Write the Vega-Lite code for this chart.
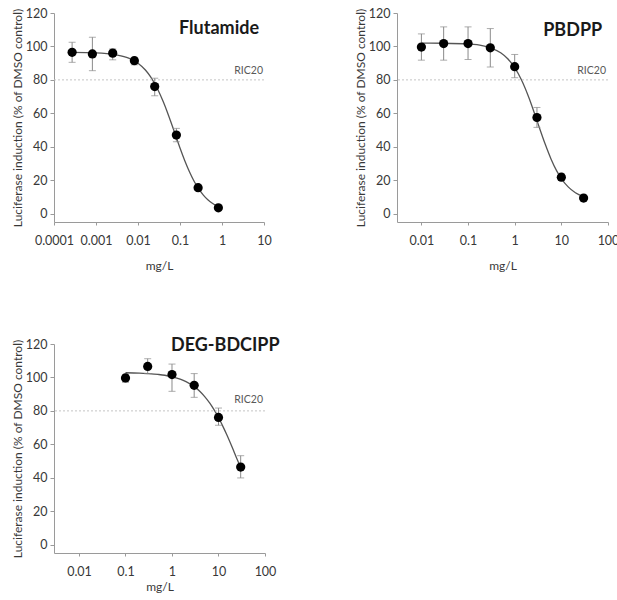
{
  "$schema": "https://vega.github.io/schema/vega-lite/v6.json",
  "background": "white",
  "padding": {"left": 11, "top": 7, "right": 0, "bottom": 0},
  "spacing": 64,
  "config": {
    "view": {"stroke": null},
    "font": "Lato",
    "axis": {
      "grid": false,
      "domainColor": "#9a9a9a",
      "tickColor": "#9a9a9a",
      "labelColor": "#383838",
      "titleColor": "#383838",
      "labelFont": "Lato",
      "titleFont": "Lato",
      "labelFontSize": 12.5,
      "titleFontSize": 12,
      "titleFontWeight": "normal",
      "labelOverlap": false,
      "labelFlush": false
    }
  },
  "datasets": {
    "flut_pts": [
      {"dose": 0.00027, "resp": 96.5, "lo": 90.5, "hi": 102.5},
      {"dose": 0.00082, "resp": 95.5, "lo": 85.5, "hi": 105.5},
      {"dose": 0.0025, "resp": 96, "lo": 92, "hi": 98.5},
      {"dose": 0.0082, "resp": 91.5, "lo": 89, "hi": 93.5},
      {"dose": 0.025, "resp": 76, "lo": 70.5, "hi": 81},
      {"dose": 0.082, "resp": 47, "lo": 43, "hi": 51},
      {"dose": 0.27, "resp": 15.5, "lo": 14, "hi": 17},
      {"dose": 0.82, "resp": 3.5, "lo": 3, "hi": 4}
    ],
    "flut_curve": [
      {"dose": 0.00027, "resp": 96.4}, {"dose": 0.001, "resp": 96.2}, {"dose": 0.003, "resp": 95.0},
      {"dose": 0.006, "resp": 93.0}, {"dose": 0.01, "resp": 90.0}, {"dose": 0.015, "resp": 85.9},
      {"dose": 0.02, "resp": 81.8}, {"dose": 0.03, "resp": 74.0}, {"dose": 0.04, "resp": 66.9},
      {"dose": 0.05, "resp": 60.7}, {"dose": 0.065, "resp": 52.7}, {"dose": 0.08, "resp": 46.2},
      {"dose": 0.1, "resp": 39.3}, {"dose": 0.13, "resp": 31.7}, {"dose": 0.17, "resp": 24.8},
      {"dose": 0.22, "resp": 19.1}, {"dose": 0.28, "resp": 14.8}, {"dose": 0.36, "resp": 11.1},
      {"dose": 0.46, "resp": 8.3}, {"dose": 0.6, "resp": 6.1}, {"dose": 0.82, "resp": 4.1}
    ],
    "pbdpp_pts": [
      {"dose": 0.01, "resp": 99.6, "lo": 91.8, "hi": 107.5},
      {"dose": 0.03, "resp": 101.7, "lo": 91.8, "hi": 111.7},
      {"dose": 0.1, "resp": 101.7, "lo": 92.2, "hi": 111.7},
      {"dose": 0.3, "resp": 99.2, "lo": 87.7, "hi": 110.7},
      {"dose": 1, "resp": 87.9, "lo": 81.3, "hi": 95.2},
      {"dose": 3, "resp": 57.5, "lo": 51.6, "hi": 63.5},
      {"dose": 10, "resp": 21.8, "lo": 19.8, "hi": 23.8},
      {"dose": 30, "resp": 9.3, "lo": 8.5, "hi": 10}
    ],
    "pbdpp_curve": [
      {"dose": 0.01, "resp": 102.0}, {"dose": 0.03, "resp": 101.9}, {"dose": 0.1, "resp": 101.4},
      {"dose": 0.2, "resp": 100.5}, {"dose": 0.3, "resp": 99.2}, {"dose": 0.5, "resp": 96.2},
      {"dose": 0.7, "resp": 92.8}, {"dose": 1, "resp": 87.3}, {"dose": 1.4, "resp": 79.9},
      {"dose": 2, "resp": 69.6}, {"dose": 2.7, "resp": 59.4}, {"dose": 3.5, "resp": 50.2},
      {"dose": 4.5, "resp": 41.6}, {"dose": 6, "resp": 32.7}, {"dose": 8, "resp": 25.4},
      {"dose": 10, "resp": 21.0}, {"dose": 14, "resp": 16.0}, {"dose": 20, "resp": 12.5},
      {"dose": 30, "resp": 10.1}
    ],
    "deg_pts": [
      {"dose": 0.1, "resp": 99.7, "lo": 97.1, "hi": 101.7},
      {"dose": 0.3, "resp": 106.6, "lo": 102.3, "hi": 111.2},
      {"dose": 1, "resp": 101.7, "lo": 91.7, "hi": 108},
      {"dose": 3, "resp": 95.3, "lo": 88.1, "hi": 102.3},
      {"dose": 10, "resp": 76.1, "lo": 71.4, "hi": 81.7},
      {"dose": 30, "resp": 46.4, "lo": 39.9, "hi": 53.2}
    ],
    "deg_curve": [
      {"dose": 0.1, "resp": 102.8}, {"dose": 0.2, "resp": 102.6}, {"dose": 0.3, "resp": 102.3},
      {"dose": 0.5, "resp": 101.8}, {"dose": 0.7, "resp": 101.3}, {"dose": 1, "resp": 100.4},
      {"dose": 1.5, "resp": 99.0}, {"dose": 2, "resp": 97.5}, {"dose": 3, "resp": 94.5},
      {"dose": 4, "resp": 91.6}, {"dose": 5, "resp": 88.7}, {"dose": 6.5, "resp": 84.6},
      {"dose": 8, "resp": 80.7}, {"dose": 10, "resp": 76.0}, {"dose": 12.5, "resp": 70.6},
      {"dose": 15, "resp": 65.9}, {"dose": 20, "resp": 57.8}, {"dose": 25, "resp": 51.2},
      {"dose": 30, "resp": 46.1}
    ],
    "one": [{}]
  },
  "vconcat": [
    {
      "spacing": 82,
      "hconcat": [
        {
          "width": 210,
          "height": 209,
          "layer": [
            {
              "data": {"name": "flut_curve"},
              "mark": {"type": "line", "color": "#555555", "strokeWidth": 1.3, "interpolate": "monotone"},
              "encoding": {
                "x": {"field": "dose", "type": "quantitative", "title": "mg/L",
                  "scale": {"type": "log", "domain": [0.0001, 10], "nice": false},
                  "axis": {"values": [0.0001, 0.001, 0.01, 0.1, 1, 10], "format": "~g", "tickSize": 3, "labelPadding": 9, "titlePadding": 14, "labelOverlap": false, "labelFlush": false}},
                "y": {"field": "resp", "type": "quantitative", "title": "Luciferase induction (% of DMSO control)",
                  "scale": {"domain": [-5, 120], "nice": false, "zero": false},
                  "axis": {"values": [0, 20, 40, 60, 80, 100, 120], "tickCount": 7, "tickSize": 4, "labelPadding": 3, "titlePadding": 1, "labelOverlap": false, "labelFlush": false}}
              }
            },
            {
              "data": {"name": "one"},
              "mark": {"type": "rule", "color": "#c4c4c4", "strokeWidth": 1, "strokeDash": [2, 2]},
              "encoding": {"y": {"datum": 80, "type": "quantitative"}}
            },
            {
              "data": {"name": "flut_pts"},
              "mark": {"type": "rule", "color": "#8a8a8a", "strokeWidth": 1},
              "encoding": {
                "x": {"field": "dose", "type": "quantitative", "title": "mg/L"},
                "y": {"field": "lo", "type": "quantitative", "title": "Luciferase induction (% of DMSO control)"},
                "y2": {"field": "hi"}
              }
            },
            {
              "data": {"name": "flut_pts"},
              "mark": {"type": "tick", "orient": "horizontal", "color": "#8a8a8a", "size": 7, "thickness": 1},
              "encoding": {
                "x": {"field": "dose", "type": "quantitative", "title": "mg/L"},
                "y": {"field": "lo", "type": "quantitative", "title": "Luciferase induction (% of DMSO control)"}
              }
            },
            {
              "data": {"name": "flut_pts"},
              "mark": {"type": "tick", "orient": "horizontal", "color": "#8a8a8a", "size": 7, "thickness": 1},
              "encoding": {
                "x": {"field": "dose", "type": "quantitative", "title": "mg/L"},
                "y": {"field": "hi", "type": "quantitative", "title": "Luciferase induction (% of DMSO control)"}
              }
            },
            {
              "data": {"name": "flut_pts"},
              "mark": {"type": "circle", "color": "#000000", "opacity": 1, "size": 85},
              "encoding": {
                "x": {"field": "dose", "type": "quantitative", "title": "mg/L"},
                "y": {"field": "resp", "type": "quantitative", "title": "Luciferase induction (% of DMSO control)"}
              }
            },
            {
              "data": {"name": "one"},
              "mark": {"type": "text", "align": "right", "baseline": "alphabetic", "dy": -6, "dx": -1, "fontSize": 10.5, "color": "#595959", "font": "Lato"},
              "encoding": {"x": {"datum": 10, "type": "quantitative"}, "y": {"datum": 80, "type": "quantitative"}, "text": {"value": "RIC20"}}
            },
            {
              "data": {"name": "one"},
              "mark": {"type": "text", "align": "center", "baseline": "middle", "fontSize": 18, "fontWeight": "bold", "color": "#1a1a1a", "font": "Lato"},
              "encoding": {"x": {"datum": 0.85, "type": "quantitative"}, "y": {"datum": 110.5, "type": "quantitative"}, "text": {"value": "Flutamide"}}
            }
          ]
        },
        {
          "width": 211,
          "height": 209,
          "layer": [
            {
              "data": {"name": "pbdpp_curve"},
              "mark": {"type": "line", "color": "#555555", "strokeWidth": 1.3, "interpolate": "monotone"},
              "encoding": {
                "x": {"field": "dose", "type": "quantitative", "title": "mg/L",
                  "scale": {"type": "log", "domain": [0.003, 100], "nice": false},
                  "axis": {"values": [0.01, 0.1, 1, 10, 100], "format": "~g", "tickSize": 3, "labelPadding": 9, "titlePadding": 14, "labelOverlap": false, "labelFlush": false}},
                "y": {"field": "resp", "type": "quantitative", "title": "Luciferase induction (% of DMSO control)",
                  "scale": {"domain": [-5, 120], "nice": false, "zero": false},
                  "axis": {"values": [0, 20, 40, 60, 80, 100, 120], "tickCount": 7, "tickSize": 4, "labelPadding": 3, "titlePadding": 1, "labelOverlap": false, "labelFlush": false}}
              }
            },
            {
              "data": {"name": "one"},
              "mark": {"type": "rule", "color": "#c4c4c4", "strokeWidth": 1, "strokeDash": [2, 2]},
              "encoding": {"y": {"datum": 80, "type": "quantitative"}}
            },
            {
              "data": {"name": "pbdpp_pts"},
              "mark": {"type": "rule", "color": "#8a8a8a", "strokeWidth": 1},
              "encoding": {
                "x": {"field": "dose", "type": "quantitative", "title": "mg/L"},
                "y": {"field": "lo", "type": "quantitative", "title": "Luciferase induction (% of DMSO control)"},
                "y2": {"field": "hi"}
              }
            },
            {
              "data": {"name": "pbdpp_pts"},
              "mark": {"type": "tick", "orient": "horizontal", "color": "#8a8a8a", "size": 7, "thickness": 1},
              "encoding": {
                "x": {"field": "dose", "type": "quantitative", "title": "mg/L"},
                "y": {"field": "lo", "type": "quantitative", "title": "Luciferase induction (% of DMSO control)"}
              }
            },
            {
              "data": {"name": "pbdpp_pts"},
              "mark": {"type": "tick", "orient": "horizontal", "color": "#8a8a8a", "size": 7, "thickness": 1},
              "encoding": {
                "x": {"field": "dose", "type": "quantitative", "title": "mg/L"},
                "y": {"field": "hi", "type": "quantitative", "title": "Luciferase induction (% of DMSO control)"}
              }
            },
            {
              "data": {"name": "pbdpp_pts"},
              "mark": {"type": "circle", "color": "#000000", "opacity": 1, "size": 85},
              "encoding": {
                "x": {"field": "dose", "type": "quantitative", "title": "mg/L"},
                "y": {"field": "resp", "type": "quantitative", "title": "Luciferase induction (% of DMSO control)"}
              }
            },
            {
              "data": {"name": "one"},
              "mark": {"type": "text", "align": "right", "baseline": "alphabetic", "dy": -6, "dx": -2, "fontSize": 10.5, "color": "#595959", "font": "Lato"},
              "encoding": {"x": {"datum": 100, "type": "quantitative"}, "y": {"datum": 80, "type": "quantitative"}, "text": {"value": "RIC20"}}
            },
            {
              "data": {"name": "one"},
              "mark": {"type": "text", "align": "center", "baseline": "middle", "fontSize": 18, "fontWeight": "bold", "color": "#1a1a1a", "font": "Lato"},
              "encoding": {"x": {"datum": 17.5, "type": "quantitative"}, "y": {"datum": 109, "type": "quantitative"}, "text": {"value": "PBDPP"}}
            }
          ]
        }
      ]
    },
    {
      "width": 211,
      "height": 209,
      "layer": [
        {
          "data": {"name": "deg_curve"},
          "mark": {"type": "line", "color": "#555555", "strokeWidth": 1.3, "interpolate": "monotone"},
          "encoding": {
            "x": {"field": "dose", "type": "quantitative", "title": "mg/L",
              "scale": {"type": "log", "domain": [0.0029, 100], "nice": false},
              "axis": {"values": [0.01, 0.1, 1, 10, 100], "format": "~g", "tickSize": 3, "labelPadding": 9, "titlePadding": 4, "labelOverlap": false, "labelFlush": false}},
            "y": {"field": "resp", "type": "quantitative", "title": "Luciferase induction (% of DMSO control)",
              "scale": {"domain": [-5, 120], "nice": false, "zero": false},
              "axis": {"values": [0, 20, 40, 60, 80, 100, 120], "tickCount": 7, "tickSize": 4, "labelPadding": 3, "titlePadding": 1, "labelOverlap": false, "labelFlush": false}}
          }
        },
        {
          "data": {"name": "one"},
          "mark": {"type": "rule", "color": "#c4c4c4", "strokeWidth": 1, "strokeDash": [2, 2]},
          "encoding": {"y": {"datum": 80, "type": "quantitative"}}
        },
        {
          "data": {"name": "deg_pts"},
          "mark": {"type": "rule", "color": "#8a8a8a", "strokeWidth": 1},
          "encoding": {
            "x": {"field": "dose", "type": "quantitative", "title": "mg/L"},
            "y": {"field": "lo", "type": "quantitative", "title": "Luciferase induction (% of DMSO control)"},
            "y2": {"field": "hi"}
          }
        },
        {
          "data": {"name": "deg_pts"},
          "mark": {"type": "tick", "orient": "horizontal", "color": "#8a8a8a", "size": 7, "thickness": 1},
          "encoding": {
            "x": {"field": "dose", "type": "quantitative", "title": "mg/L"},
            "y": {"field": "lo", "type": "quantitative", "title": "Luciferase induction (% of DMSO control)"}
          }
        },
        {
          "data": {"name": "deg_pts"},
          "mark": {"type": "tick", "orient": "horizontal", "color": "#8a8a8a", "size": 7, "thickness": 1},
          "encoding": {
            "x": {"field": "dose", "type": "quantitative", "title": "mg/L"},
            "y": {"field": "hi", "type": "quantitative", "title": "Luciferase induction (% of DMSO control)"}
          }
        },
        {
          "data": {"name": "deg_pts"},
          "mark": {"type": "circle", "color": "#000000", "opacity": 1, "size": 85},
          "encoding": {
            "x": {"field": "dose", "type": "quantitative", "title": "mg/L"},
            "y": {"field": "resp", "type": "quantitative", "title": "Luciferase induction (% of DMSO control)"}
          }
        },
        {
          "data": {"name": "one"},
          "mark": {"type": "text", "align": "right", "baseline": "alphabetic", "dy": -8, "dx": -2, "fontSize": 10.5, "color": "#595959", "font": "Lato"},
          "encoding": {"x": {"datum": 100, "type": "quantitative"}, "y": {"datum": 80, "type": "quantitative"}, "text": {"value": "RIC20"}}
        },
        {
          "data": {"name": "one"},
          "mark": {"type": "text", "align": "center", "baseline": "middle", "fontSize": 18, "fontWeight": "bold", "color": "#1a1a1a", "font": "Lato"},
          "encoding": {"x": {"datum": 14, "type": "quantitative"}, "y": {"datum": 119, "type": "quantitative"}, "text": {"value": "DEG-BDCIPP"}}
        }
      ]
    }
  ]
}
